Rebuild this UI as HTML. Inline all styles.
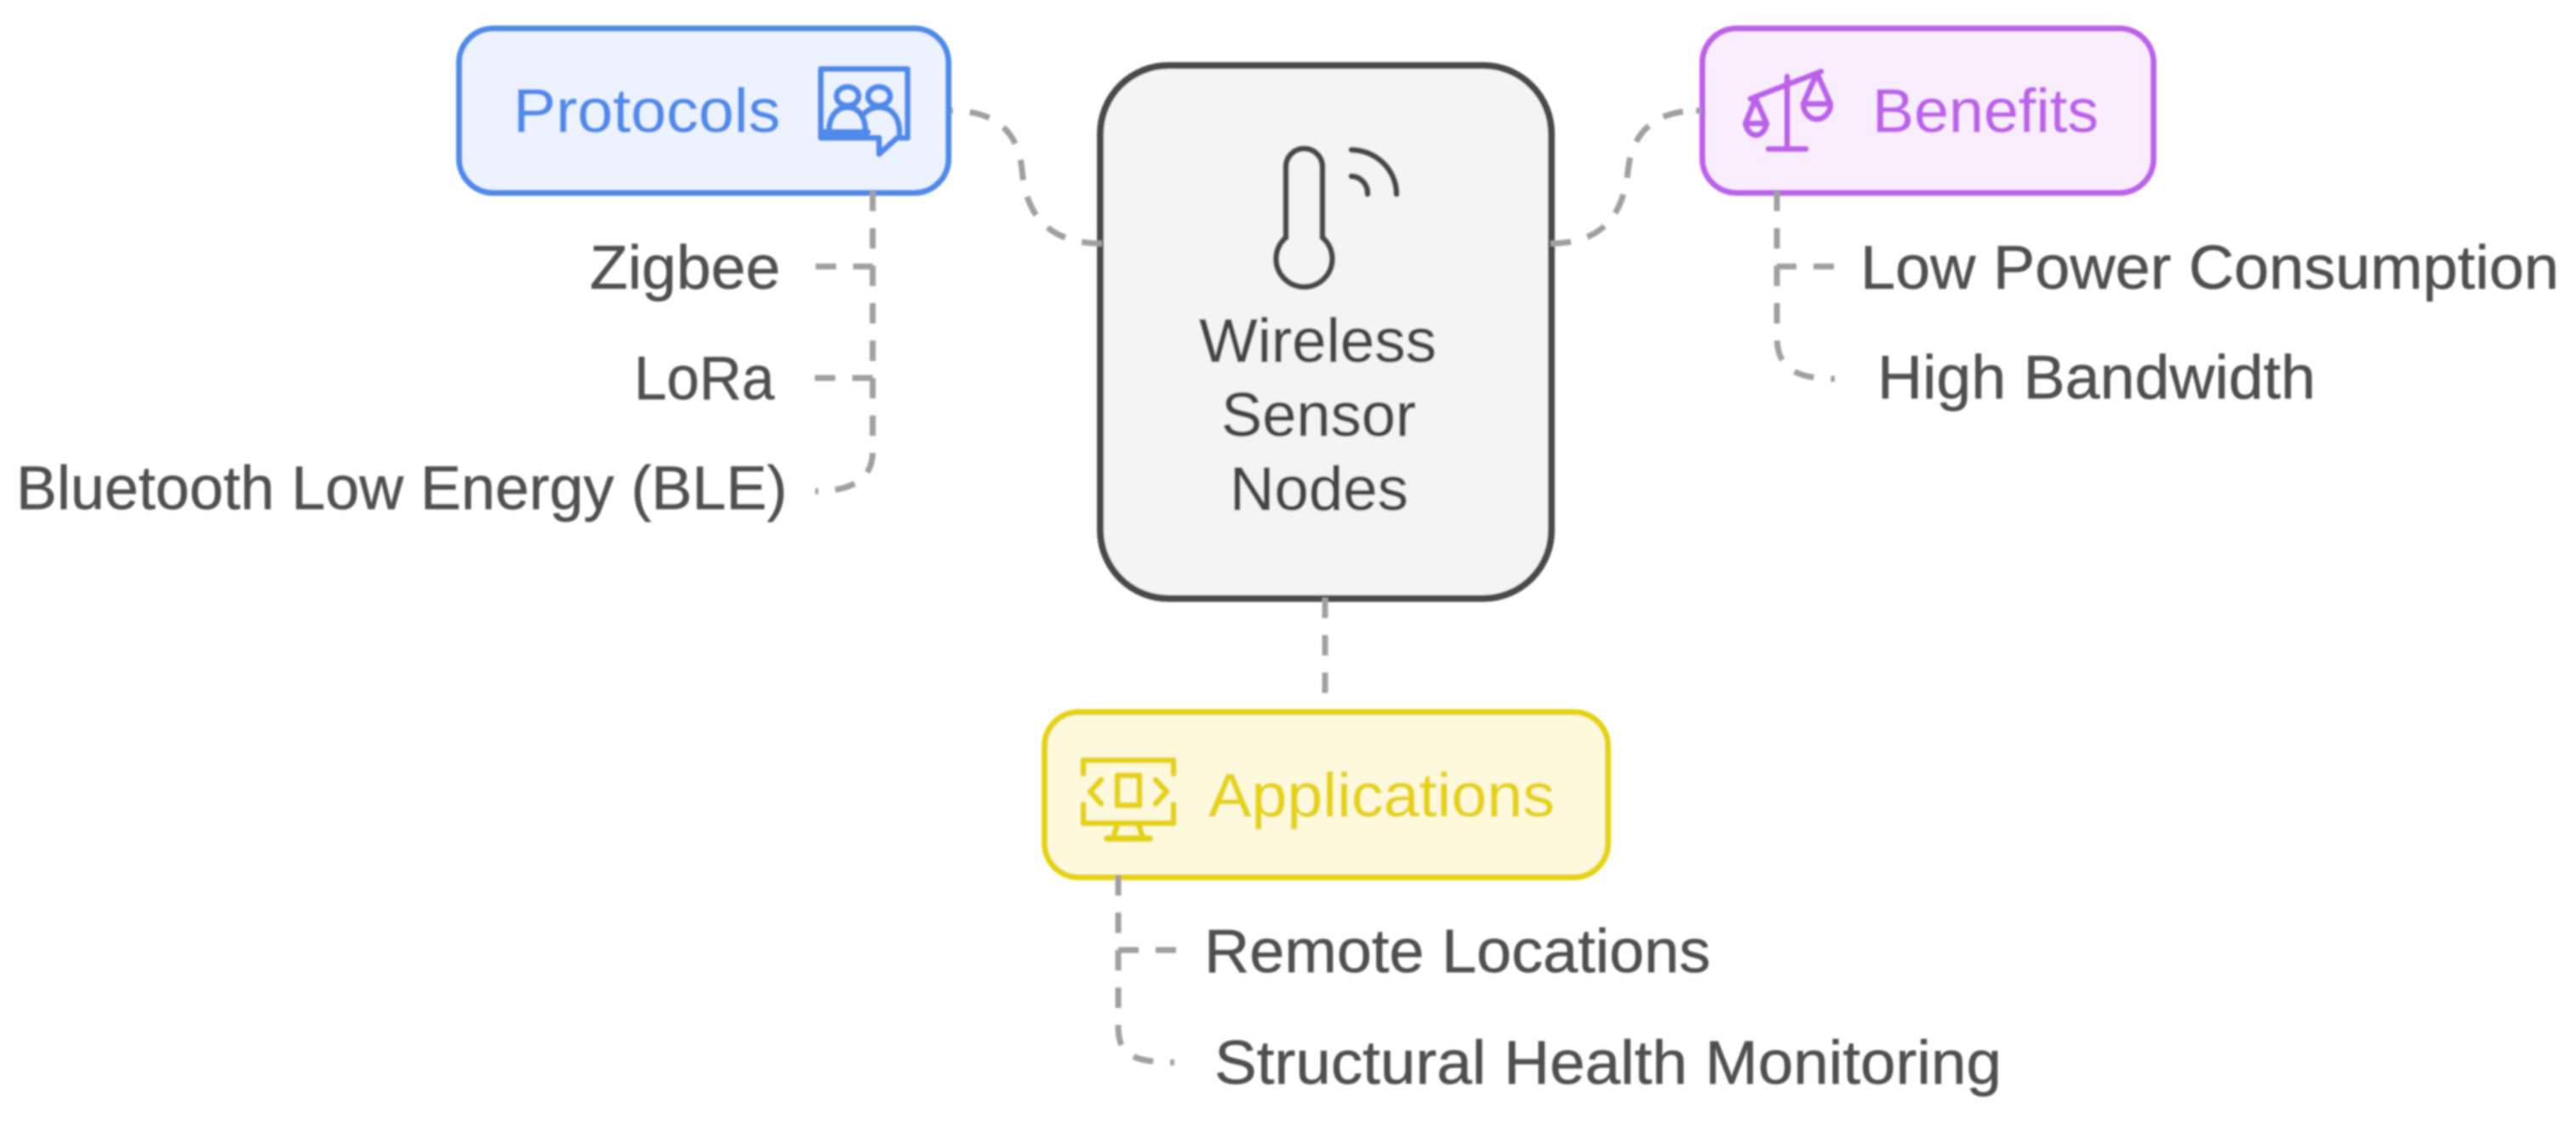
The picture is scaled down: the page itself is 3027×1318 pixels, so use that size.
<!DOCTYPE html>
<html><head><meta charset="utf-8"><style>
html,body{margin:0;padding:0;background:#fff}
svg{display:block}
text{font-family:"Liberation Sans",sans-serif;font-size:72px;stroke-width:.5}
.d{fill:none;stroke:#a0a0a0;stroke-width:7;stroke-dasharray:24 20}
.l{fill:#4f4f4f;stroke:#4f4f4f}
.c{fill:#444;stroke:#444}
</style></head><body>
<svg width="3027" height="1318" viewBox="0 0 3027 1318" xmlns="http://www.w3.org/2000/svg">
<defs><filter id="b" filterUnits="userSpaceOnUse" x="0" y="0" width="3027" height="1318"><feGaussianBlur stdDeviation="1"/></filter></defs>
<rect width="3027" height="1318" fill="#fff"/>
<g filter="url(#b)">
<rect x="539.500" y="33.500" width="575" height="193" rx="40" fill="#ecf3fe" stroke="#4e8aea" stroke-width="7"/>
<rect x="2000.500" y="33.500" width="530" height="193" rx="40" fill="#f8eefe" stroke="#bd60ea" stroke-width="7"/>
<rect x="1227.500" y="836.500" width="662" height="194" rx="40" fill="#fef9dc" stroke="#e6d310" stroke-width="7"/>
<rect x="1293" y="77" width="530" height="626" rx="80" fill="#f4f4f4" stroke="#4a4a4a" stroke-width="8"/>

<!-- connectors -->
<path class="d" d="M1295 286 C1225 286 1205 245 1201 200 C1197 155 1170 130 1118 130"/>
<path class="d" d="M1822 286 C1885 286 1908 250 1913 200 C1918 155 1945 130 1995 130"/>
<path class="d" d="M1993 130 H1999"/>
<path class="d" d="M1557 702 V814"/>
<path class="d" d="M1025.500 224 V313 H955"/>
<path class="d" d="M1025.500 224 V444 H955"/>
<path class="d" d="M1025.500 224 V530 C1025.500 560 1005 577 958 577"/>
<path class="d" d="M2088 224 V313 H2158"/>
<path class="d" d="M2088 224 V395 C2088 425 2100 445 2156 445"/>
<path class="d" d="M1314 1028 V1116 H1382"/>
<path class="d" d="M1314 1028 V1205 C1314 1235 1325 1248 1380 1248"/>

<!-- node labels -->
<text x="603" y="155" textLength="314" lengthAdjust="spacingAndGlyphs" fill="#4e8aea" stroke="#4e8aea">Protocols</text>
<text x="2200" y="155" textLength="266" lengthAdjust="spacingAndGlyphs" fill="#bd60ea" stroke="#bd60ea">Benefits</text>
<text x="1420" y="959" textLength="407" lengthAdjust="spacingAndGlyphs" fill="#e6d310" stroke="#e6d310">Applications</text>
<text class="c" x="1409" y="425" textLength="279" lengthAdjust="spacingAndGlyphs">Wireless</text>
<text class="c" x="1435" y="512" textLength="229" lengthAdjust="spacingAndGlyphs">Sensor</text>
<text class="c" x="1445" y="599" textLength="210" lengthAdjust="spacingAndGlyphs">Nodes</text>

<!-- leaf labels -->
<text class="l" x="693" y="339" textLength="224" lengthAdjust="spacingAndGlyphs">Zigbee</text>
<text class="l" x="745" y="469" textLength="165" lengthAdjust="spacingAndGlyphs">LoRa</text>
<text class="l" x="19" y="598" textLength="906" lengthAdjust="spacingAndGlyphs">Bluetooth Low Energy (BLE)</text>
<text class="l" x="2186" y="339" textLength="821" lengthAdjust="spacingAndGlyphs">Low Power Consumption</text>
<text class="l" x="2206" y="468" textLength="515" lengthAdjust="spacingAndGlyphs">High Bandwidth</text>
<text class="l" x="1415" y="1142" textLength="595" lengthAdjust="spacingAndGlyphs">Remote Locations</text>
<text class="l" x="1427" y="1273" textLength="925" lengthAdjust="spacingAndGlyphs">Structural Health Monitoring</text>

<!-- protocols icon -->
<g fill="none" stroke="#4e8aea" stroke-width="7" stroke-linejoin="round" stroke-linecap="round">
<path d="M964.500 81 H1066.500 V162 H1054 L1033 181 V162 H964.500 Z"/>
<ellipse cx="996" cy="113" rx="13" ry="11"/><ellipse cx="1033" cy="113" rx="13" ry="11"/>
<path d="M974 155 C974 136 984 126 996 126 C1008 126 1017 136 1017 155"/>
<path d="M1016 133 C1021 128 1027 126 1033 126 C1048 126 1057 138 1057 156"/>
<path d="M968 155 H1020"/>
</g>
<!-- scale icon -->
<g fill="none" stroke="#bd60ea" stroke-width="7" stroke-linecap="round" stroke-linejoin="round">
<path d="M2100 90 V175 M2078 175 H2122" />
<path d="M2057 116 L2140 84"/>
<path d="M2063 116 L2051 145 A13 19 0 0 0 2076 145 L2063 116 Z M2051 145 H2076"/>
<path d="M2135 86 L2119 122 A16 18 0 0 0 2151 122 L2135 86 Z M2119 122 H2151"/>
</g>
<!-- apps icon -->
<g fill="none" stroke="#e6d310" stroke-width="7" stroke-linecap="round" stroke-linejoin="round">
<path d="M1273 909 V893 H1379 V909"/>
<path d="M1273 945 V967 H1379 V945"/>
<rect x="1313" y="911" width="26" height="35"/>
<path d="M1294 916 L1281 930 L1294 944"/>
<path d="M1358 916 L1371 930 L1358 944"/>
<path d="M1313 969 L1308 984 M1338 969 L1343 984"/>
<path d="M1301 985 H1351" stroke-width="8"/>
</g>
<!-- thermometer icon -->
<g fill="none" stroke="#4a4a4a" stroke-width="7" stroke-linecap="round">
<path d="M1511 279 V196 A21.500 21.500 0 0 1 1554 196 V279 A33 33 0 1 1 1511 279 Z"/>
<path d="M1588 176 A54 52 0 0 1 1641 228"/>
<path d="M1588 207 A20 20 0 0 1 1607 228"/>
</g>
</g>
</svg>
</body></html>
